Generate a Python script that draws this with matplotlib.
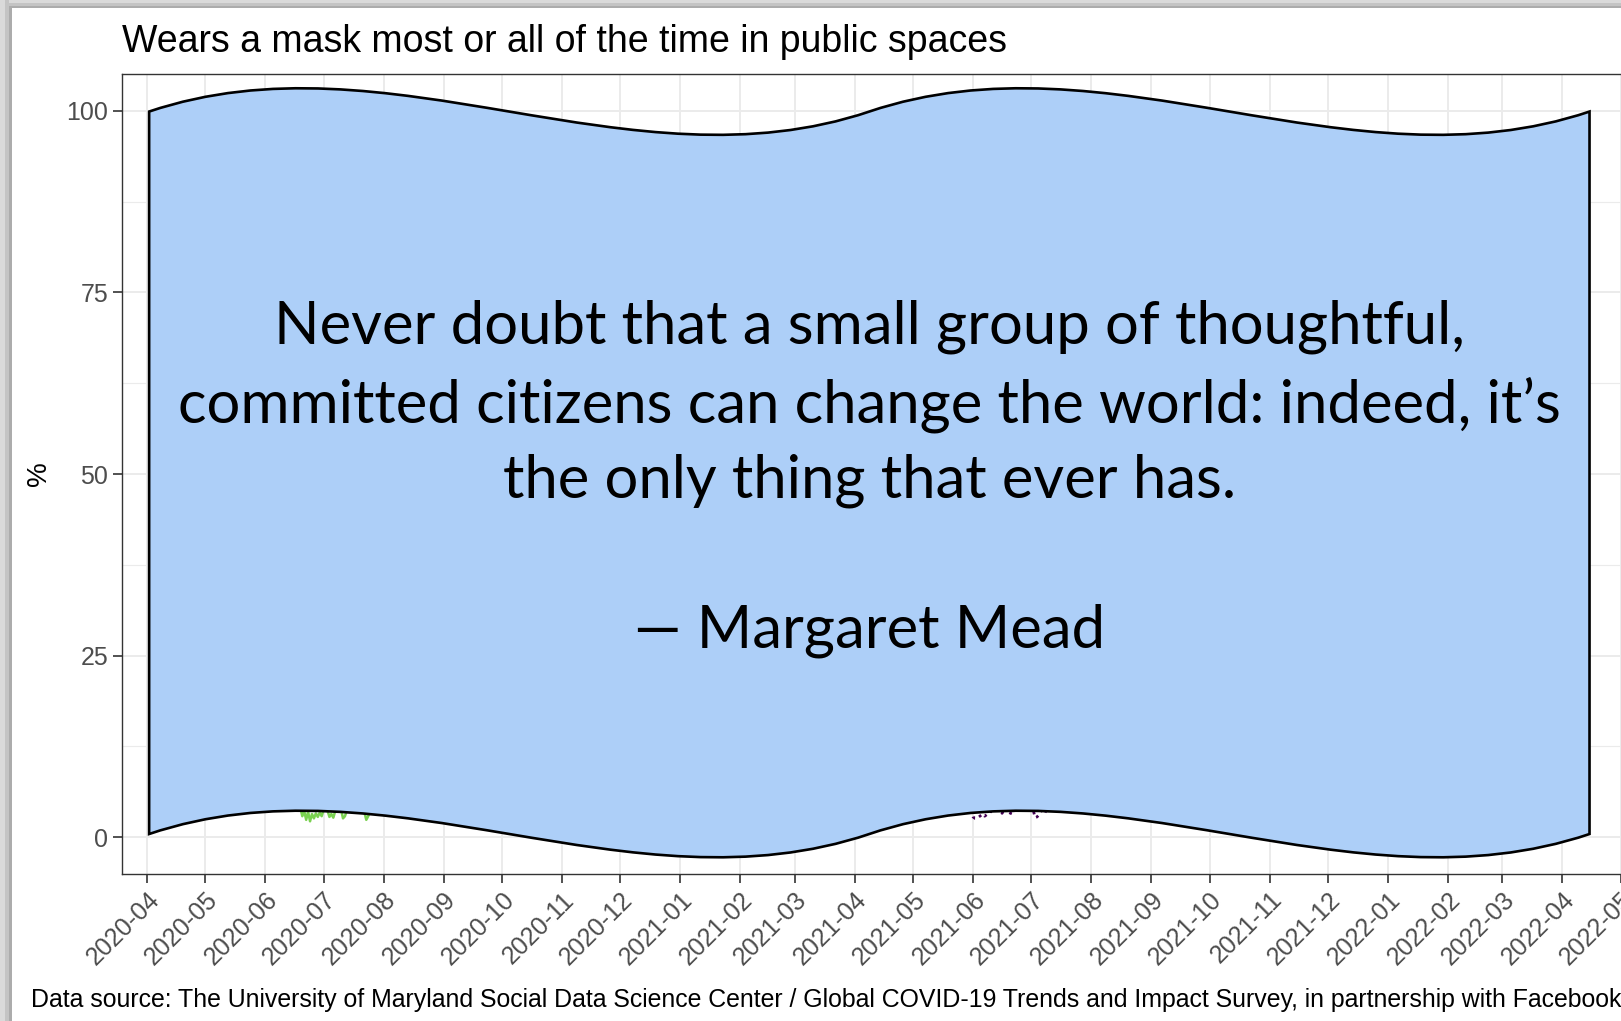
"""
Mask-wearing chart with a quote banner laid over the panel.

ggplot-style (theme_bw) line chart, mostly hidden behind a wavy
call-out shape carrying a Margaret Mead quote.
"""

import matplotlib
matplotlib.use("Agg")  # non-interactive backend safe for scripts
import matplotlib.dates as mdates
import matplotlib.pyplot as plt
import numpy as np
from matplotlib.patches import PathPatch, Rectangle
from matplotlib.path import Path

# --- data -------------------------------------------------------------
green_dates = np.arange("2020-06-12", "2020-07-29", dtype="datetime64[D]")
green_values = [
    4.6, 4.2, 4.4, 3.9, 4.3, 4.0, 3.8, 4.1, 2.9, 3.6,
    2.4, 3.5, 2.2, 3.2, 2.6, 3.3, 2.8, 3.4, 2.9, 3.8,
    4.0, 3.7, 2.8, 3.2, 2.7, 3.6, 3.9, 4.1, 3.8, 2.6,
    2.9, 3.7, 4.0, 4.2, 3.9, 4.1, 3.8, 4.0, 3.7, 3.9,
    3.5, 2.4, 2.9, 3.6, 3.9, 4.1, 4.3,
]

purple_dates = np.arange("2021-05-30", "2021-07-11", dtype="datetime64[D]")
purple_values = [
    3.6, 3.5, 2.8, 2.6, 2.6, 2.8, 3.0, 3.2, 2.9, 3.1,
    3.3, 3.6, 3.4, 3.7, 3.8, 3.7, 3.6, 3.3, 3.8, 3.9,
    3.6, 3.1, 3.7, 3.9, 3.3, 3.9, 4.0, 4.1, 3.9, 4.0,
    4.2, 4.0, 3.9, 3.8, 2.7, 2.8, 3.1, 3.6, 3.7, 3.3,
    3.9, 4.0,
]

y_ticks = [0, 25, 50, 75, 100]

TITLE = "Wears a mask most or all of the time in public spaces"
CAPTION = ("Data source: The University of Maryland Social Data Science Center / "
           "Global COVID-19 Trends and Impact Survey, in partnership with Facebook")
QUOTE = ("Never doubt that a small group of thoughtful,\n"
         "committed citizens can change the world: indeed, it\u2019s\n"
         "the only thing that ever has.\n\n"
         "\u2014 Margaret Mead")

# banner (double wave) geometry, in data units
BANNER_START = np.datetime64("2020-04-02")
BANNER_END = np.datetime64("2022-04-15")
BANNER_TOP = 99.9
BANNER_BOTTOM = 0.45
WAVE_HEIGHT = 11.1

W, H = 1621, 1021


def wave_edge(x0, x1, base, h):
    """Control points for two S-shaped cubic Beziers from x0 to x1."""
    mid = (x0 + x1) / 2
    pts = [(x0, base)]
    for a, b in ((x0, mid), (mid, x1)):
        w = b - a
        pts += [(a + w / 3, base + h), (a + 2 * w / 3, base - h), (b, base)]
    return pts


def banner_path():
    x0 = mdates.date2num(BANNER_START)
    x1 = mdates.date2num(BANNER_END)
    top = wave_edge(x0, x1, BANNER_TOP, WAVE_HEIGHT)
    bottom = wave_edge(x0, x1, BANNER_BOTTOM, WAVE_HEIGHT)[::-1]
    verts = top + bottom + [top[0]]
    codes = ([Path.MOVETO] + [Path.CURVE4] * 6 + [Path.LINETO]
             + [Path.CURVE4] * 6 + [Path.CLOSEPOLY])
    return Path(verts, codes)


fig = plt.figure(figsize=(W / 100, H / 100), dpi=100)
ax = fig.add_axes([122 / W, 1 - 873.6 / H, 1528 / W, (873.6 - 74.5) / H])

ax.plot(green_dates, green_values, color="#7AD151", linewidth=1.8, zorder=2)
ax.plot(purple_dates, purple_values, color="#440154", linewidth=2.0,
        linestyle=(0, (1, 1.6)), zorder=2)

ax.add_patch(PathPatch(banner_path(), facecolor="#ADCFF8", edgecolor="black",
                       linewidth=1.9, zorder=5))

mid = mdates.date2num(BANNER_START) + (mdates.date2num(BANNER_END)
                                       - mdates.date2num(BANNER_START)) / 2
ax.text(mid, 49.3, QUOTE, ha="center", va="center", multialignment="center",
        fontsize=43, family=["Lato", "DejaVu Sans"], linespacing=1.475,
        color="black", zorder=6)

# axes / theme_bw look
x_left = np.datetime64("2020-04-01") - np.timedelta64(13, "D")
ax.set_xlim(mdates.date2num(x_left), mdates.date2num(x_left) + 1528 / 1.9386)
ax.set_ylim(-5, 105)
ax.set_yticks(y_ticks)
ax.set_yticks([12.5, 37.5, 62.5, 87.5], minor=True)
ax.xaxis.set_major_locator(mdates.MonthLocator())
ax.xaxis.set_major_formatter(mdates.DateFormatter("%Y-%m"))
ax.grid(True, which="major", color="#EBEBEB", linewidth=1.4, zorder=0)
ax.grid(True, which="minor", axis="y", color="#EBEBEB", linewidth=0.8, zorder=0)
ax.set_axisbelow(True)
for s in ax.spines.values():
    s.set_color("#333333")
    s.set_linewidth(1.0)
ax.tick_params(axis="both", which="major", length=6.5, width=1.2, color="#333333",
               labelcolor="#4D4D4D", labelsize=18)
ax.tick_params(axis="y", which="minor", length=0)
plt.setp(ax.get_xticklabels(), rotation=45, ha="right", rotation_mode="anchor",
         family="Liberation Sans")
plt.setp(ax.get_yticklabels(), family="Liberation Sans")
ax.set_ylabel("%", fontsize=20, family="Liberation Sans", labelpad=10)

fig.text(122 / W, 1 - 42 / H, TITLE, fontsize=27, family="Liberation Sans",
         va="center", ha="left")
fig.text(31 / W, 1 - 1000 / H, CAPTION, fontsize=17.9, family="Liberation Sans",
         va="center", ha="left")

# screenshot shadow along the left and top edges
for x, w_, c in ((0, 5, "#dadada"), (5, 4, "#c4c4c4"), (9, 3, "#acacac")):
    fig.add_artist(Rectangle((x / W, 0), w_ / W, 1, transform=fig.transFigure,
                             facecolor=c, edgecolor="none", zorder=10))
for y, h_, c in ((0, 3, "#dadada"), (3, 3, "#c4c4c4"), (6, 2, "#acacac")):
    fig.add_artist(Rectangle((9 / W, 1 - (y + h_) / H), 1, h_ / H,
                             transform=fig.transFigure,
                             facecolor=c, edgecolor="none", zorder=10))

fig.savefig("out.png", dpi=100)
